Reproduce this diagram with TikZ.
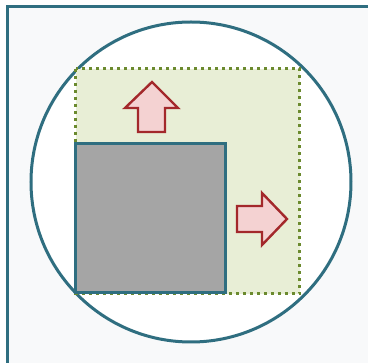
\documentclass[tikz,border=0pt]{standalone}
\usetikzlibrary{positioning}
\definecolor{frameteal}{HTML}{2F6E80}
\definecolor{pagegrey}{HTML}{F8F9FA}
\definecolor{zonegreen}{HTML}{E8EED6}
\definecolor{dotolive}{HTML}{6B8A2E}
\definecolor{boxgrey}{HTML}{A5A5A5}
\definecolor{arrowred}{HTML}{A3282B}
\definecolor{arrowpink}{HTML}{F4D2D2}
\begin{document}
\begin{tikzpicture}[x=1pt,y=-1pt]
\tikzstyle{tealline} = [draw=frameteal, line width=3pt] % contour style
\tikzstyle{growzone} = [fill=zonegreen, draw=dotolive, line width=3pt, dash pattern=on 3pt off 4pt] % zone style
\tikzstyle{pusharrow} = [fill=arrowpink, draw=arrowred, line width=2.4pt, line join=miter] % arrow style
\useasboundingbox (0,0) rectangle (368,363);
\begin{scope}
\clip (0,0) rectangle (368,363);
% frame
\filldraw[tealline, fill=pagegrey] (8,7) rectangle (380,375);
\end{scope}
% circle
\filldraw[tealline, fill=white] (191,182) circle (160);
% zone
\path[growzone] (76,69) rectangle (300,294);
% box
\filldraw[tealline, fill=boxgrey] (76,144) rectangle (226,293);
% arrows
\path[pusharrow] (152,82) -- (178,108) -- (165,108) -- (165,132) -- (138,132) -- (138,108) -- (125,108) -- cycle;
\path[pusharrow] (287,219) -- (262,245) -- (262,232) -- (237,232) -- (237,206) -- (262,206) -- (262,193) -- cycle;
\end{tikzpicture}
\end{document}
